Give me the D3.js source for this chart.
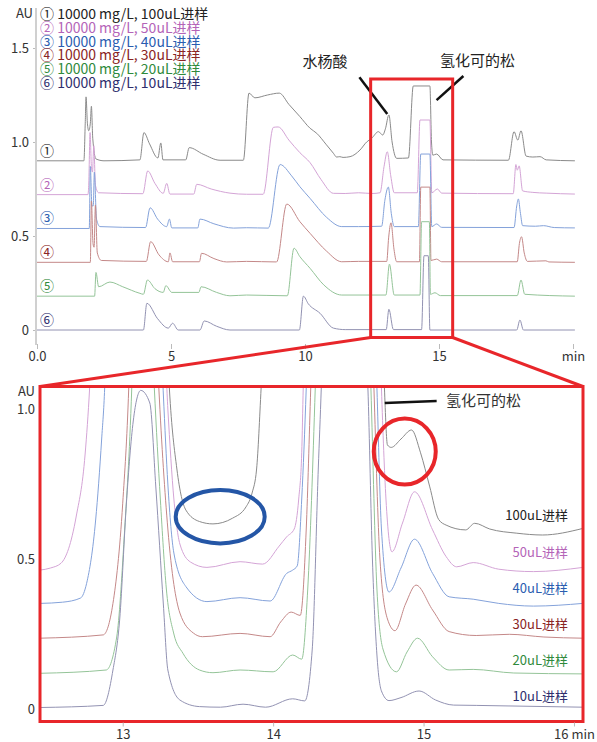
<!DOCTYPE html>
<html>
<head>
<meta charset="utf-8">
<script src="https://cdn.jsdelivr.net/npm/d3@7"></script>
<style>
  body { margin: 0; background: #fff; }
  svg text { font-family: "Noto Sans CJK SC", "Noto Sans", sans-serif; }
</style>
</head>
<body>
<div id="chart"></div>
<script>
// ---- data ----
const sampleNames = ['100uL进样', '50uL进样', '40uL进样', '30uL进样', '20uL进样', '10uL进样'];
const circled = ['①', '②', '③', '④', '⑤', '⑥'];
const concLabel = '10000 mg/L';
const textColors = ['#222222', '#b464b8', '#2a5db0', '#8a2424', '#2f8a3c', '#2e2e6e'];
const lineColors = ['#8a8a8a', '#d4a4d6', '#84a2da', '#c48888', '#94c498', '#9292b2'];

// full run, signal above each trace's own baseline (AU) vs time (min)
const topOffsets = [0.9, 0.72, 0.54, 0.36, 0.18, 0];
const top1 = [[0,0],[1.75,0],[1.8,0.2],[1.83,0.34],[1.88,0.2],[1.93,0.16],[1.99,0.2],[2.03,0.29],[2.08,0.12],[2.2,0.01],[2.5,0],
  [3.84,0.005],[3.99,0.15],[4.2,0.09],[4.51,0.015],[4.62,0.095],[4.7,0.005],[5.55,0.005],[5.68,0.07],[6.2,0.035],[6.83,0.003],
  [7.7,0.003],[7.91,0.36],[8.13,0.335],[8.6,0.35],[9.04,0.36],[9.4,0.3],[9.81,0.235],[10.19,0.173],[10.44,0.146],[10.8,0.085],
  [11.06,0.04],[11.18,0.02],[11.3,0.022],[11.42,0.018],[11.68,0.022],[12.05,0.057],[12.3,0.1],[12.49,0.12],[12.74,0.155],
  [12.9,0.137],[13.0,0.17],[13.13,0.244],[13.25,0.1],[13.42,0.013],[13.86,0.015],[14.04,0.398],[14.66,0.398],[14.72,0.1],
  [14.77,0.03],[14.91,0.036],[15.15,0.005],[17.59,0.003],[17.8,0.155],[17.94,0.11],[18.06,0.16],[18.25,0.025],[18.5,0.02],
  [18.77,0.022],[19.0,0.005],[20.07,0]];
const top2 = [[0,0],[1.9,0],[1.93,0.05],[1.98,0.33],[2.03,0.15],[2.07,0.12],[2.12,0.26],[2.18,0.05],[2.3,0.01],[3.95,0.005],
  [4.13,0.126],[4.4,0.06],[4.71,0.007],[4.84,0.06],[4.96,0.003],[5.85,0.003],[5.96,0.055],[6.5,0.03],[7.2,0.008],[7.82,0.002],
  [8.44,0.002],[8.82,0.358],[9.0,0.36],[9.4,0.29],[9.81,0.223],[10.19,0.17],[10.6,0.08],[11.06,0.007],[11.5,0.006],[12.0,0.01],
  [12.5,0.006],[12.8,0.01],[12.95,0.15],[13.07,0.228],[13.2,0.1],[13.33,0.01],[14.19,0.01],[14.29,0.397],[14.66,0.397],
  [14.73,0.01],[14.94,0.03],[15.1,0.008],[17.77,0.005],[17.87,0.16],[17.92,0.13],[17.99,0.153],[18.12,0.02],[18.5,0.012],
  [19.0,0.008],[20.07,0.003]];
const top3 = [[0,0],[1.95,0],[1.99,0.33],[2.05,0.12],[2.1,0.12],[2.14,0.3],[2.22,0.05],[2.35,0.01],[4.05,0.005],[4.22,0.11],
  [4.5,0.05],[4.84,0.01],[4.94,0.05],[5.03,0.003],[6.0,0.003],[6.08,0.05],[6.6,0.025],[7.33,0.002],[7.82,0.004],[8.63,0.002],
  [9.07,0.34],[9.5,0.28],[9.81,0.222],[10.19,0.16],[10.8,0.06],[11.37,0.01],[12.0,0.01],[12.86,0.012],[12.98,0.15],[13.11,0.22],
  [13.22,0.08],[13.33,0.01],[14.23,0.01],[14.32,0.396],[14.66,0.396],[14.73,0.01],[14.91,0.024],[15.1,0.006],[17.8,0.005],
  [17.9,0.12],[17.96,0.157],[18.04,0.08],[18.12,0.015],[18.6,0.012],[18.9,0.015],[19.3,0.005],[20.07,0.003]];
const top4 = [[0,0],[1.99,0],[2.03,0.326],[2.09,0.1],[2.13,0.08],[2.18,0.305],[2.25,0.05],[2.4,0.01],[4.08,0.005],[4.24,0.11],
  [4.55,0.04],[4.9,0.003],[4.96,0.05],[5.06,0.003],[6.06,0.003],[6.14,0.048],[6.6,0.02],[7.08,0.002],[7.82,0.005],[8.94,0.002],
  [9.32,0.31],[9.81,0.216],[10.19,0.154],[10.8,0.06],[11.37,0.003],[12.0,0.005],[13.05,0.005],[13.12,0.13],[13.21,0.21],
  [13.32,0.07],[13.42,0.003],[14.27,0.003],[14.32,0.4],[14.66,0.4],[14.7,0.01],[14.91,0.017],[15.1,0.003],[17.92,0.003],
  [18.0,0.1],[18.08,0.136],[18.18,0.05],[18.3,0.005],[18.99,0.008],[19.1,0.002],[20.07,0]];
const top5 = [[0,0],[2.15,0],[2.2,0.126],[2.3,0.05],[2.72,0.075],[3.2,0.05],[3.84,0.015],[3.97,0.01],[4.12,0.086],[4.4,0.04],
  [4.71,0.02],[4.81,0.056],[5.03,0.02],[6.04,0.02],[6.12,0.05],[6.7,0.02],[7.2,0.002],[7.82,0.006],[9.34,0.002],[9.59,0.255],
  [9.81,0.21],[10.19,0.148],[10.7,0.06],[11.37,0.006],[13.02,0.006],[13.15,0.17],[13.33,0.006],[14.29,0.006],[14.35,0.396],
  [14.64,0.396],[14.68,0.01],[14.85,0.018],[15.05,0.003],[17.92,0.003],[18.06,0.086],[18.2,0.01],[20.07,0]];
const top6 = [[0,0],[3.97,0],[4.1,0.142],[4.5,0.06],[4.9,0.01],[5.06,0.036],[5.27,0],[6.08,0],[6.24,0.048],[6.7,0.02],[7.2,0],
  [9.79,0],[9.94,0.18],[10.12,0.14],[10.56,0.089],[11.06,0.01],[11.5,0.002],[13.03,0.002],[13.13,0.11],[13.3,0.002],
  [14.35,0.002],[14.44,0.395],[14.6,0.395],[14.66,0],[17.9,0],[18.02,0.053],[18.15,0],[20.07,0]];
const topTraces = [top1, top2, top3, top4, top5, top6];

// zoomed window 12.45-16.06 min (AU)
const zoomRange = [12.45, 16.06];
const zoom1 = [[12.45,1.4],[13.28,1.4],[13.31,1.07],[13.36,0.8],[13.42,0.663],[13.51,0.625],[13.6,0.617],[13.73,0.636],
  [13.82,0.674],[13.86,0.72],[13.89,0.8],[13.92,1.07],[13.95,1.4],[14.72,1.4],[14.74,1.07],[14.76,0.88],[14.785,0.872],
  [14.85,0.9],[14.92,0.93],[14.98,0.854],[15.04,0.743],[15.1,0.632],[15.15,0.613],[15.28,0.597],[15.34,0.619],[15.44,0.6],
  [15.62,0.586],[15.79,0.58],[16.06,0.602]];
const zoom2 = [[12.45,0.463],[12.52,0.47],[12.59,0.486],[12.69,0.64],[12.75,0.85],[12.78,1.07],[12.81,1.4],[13.26,1.4],
  [13.3,1.0],[13.34,0.7],[13.38,0.55],[13.45,0.49],[13.56,0.472],[13.78,0.491],[13.93,0.483],[14.04,0.543],[14.09,0.574],
  [14.14,0.6],[14.17,0.7],[14.19,0.854],[14.2,1.07],[14.22,1.4],[14.7,1.4],[14.72,1.07],[14.75,0.7],[14.79,0.524],
  [14.86,0.62],[14.94,0.724],[15.06,0.597],[15.15,0.508],[15.22,0.474],[15.33,0.488],[15.5,0.466],[15.73,0.458],[16.06,0.472]];
const zoom3 = [[12.45,0.352],[12.6,0.356],[12.72,0.37],[12.76,0.419],[12.82,0.63],[12.86,0.9],[12.88,1.07],[12.9,1.4],
  [13.24,1.4],[13.27,1.05],[13.3,0.75],[13.34,0.52],[13.42,0.408],[13.56,0.358],[13.78,0.371],[13.98,0.36],[14.09,0.452],
  [14.13,0.463],[14.16,0.477],[14.19,0.7],[14.22,1.07],[14.24,1.4],[14.67,1.4],[14.69,1.07],[14.72,0.6],[14.77,0.39],
  [14.85,0.47],[14.94,0.566],[15.06,0.452],[15.17,0.374],[15.33,0.366],[15.5,0.352],[15.73,0.343],[16.06,0.352]];
const zoom4 = [[12.45,0.236],[12.87,0.247],[12.935,0.352],[13.0,0.686],[13.04,1.07],[13.06,1.4],[13.21,1.4],[13.24,1.07],
  [13.3,0.6],[13.38,0.32],[13.47,0.253],[13.53,0.241],[13.78,0.252],[13.98,0.241],[14.05,0.29],[14.12,0.323],[14.18,0.312],
  [14.22,0.6],[14.25,1.07],[14.27,1.4],[14.65,1.4],[14.67,1.07],[14.71,0.5],[14.76,0.3],[14.81,0.261],[14.88,0.35],
  [14.95,0.413],[15.06,0.33],[15.17,0.258],[15.35,0.245],[15.57,0.249],[15.8,0.24],[16.06,0.236]];
const zoom5 = [[12.45,0.119],[12.89,0.13],[12.96,0.24],[13.01,0.574],[13.06,1.07],[13.08,1.4],[13.18,1.4],[13.21,1.07],
  [13.25,0.7],[13.29,0.4],[13.34,0.25],[13.4,0.186],[13.51,0.13],[13.6,0.121],[13.78,0.13],[14.0,0.124],[14.13,0.18],
  [14.19,0.166],[14.23,0.4],[14.28,1.07],[14.3,1.4],[14.63,1.4],[14.65,1.07],[14.69,0.4],[14.73,0.2],[14.82,0.124],
  [14.89,0.19],[14.96,0.236],[15.06,0.174],[15.17,0.13],[15.33,0.132],[15.6,0.12],[16.06,0.117]];
const zoom6 = [[12.45,0.005],[12.87,0.012],[12.935,0.13],[12.98,0.3],[13.025,0.69],[13.07,0.96],[13.12,1.062],[13.18,1.02],
  [13.22,0.74],[13.27,0.35],[13.3,0.13],[13.38,0.03],[13.51,0.008],[13.65,0.006],[13.8,0.016],[13.95,0.006],[14.13,0.034],
  [14.21,0.027],[14.26,0.2],[14.3,0.8],[14.32,1.07],[14.34,1.4],[14.6,1.4],[14.63,1.07],[14.66,0.5],[14.69,0.18],[14.72,0.06],
  [14.77,0.028],[14.85,0.038],[14.97,0.06],[15.08,0.03],[15.2,0.013],[15.35,0.012],[16.06,0.006]];
const zoomTraces = [zoom1, zoom2, zoom3, zoom4, zoom5, zoom6];
const zoomLabelLevels = [0.641, 0.519, 0.399, 0.277, 0.158, 0.039];

const topXTicks = [0, 5, 10, 15, 20];
const topYTicks = [0, 0.5, 1.0, 1.5];
const zoomXTicks = [13, 14, 15, 16];
const zoomYTicks = [0, 0.5, 1.0];

// ---- layout ----
const W = 597, H = 742;
const RED = '#e8262a';

const svg = d3.select('#chart').append('svg')
  .attr('width', W).attr('height', H);

const xTop = d3.scaleLinear().domain([0, 20]).range([37, 573]);
const yTop = d3.scaleLinear().domain([0, 1.5]).range([330, 48]);
const xZoom = d3.scaleLinear().domain(zoomRange).range([40, 583]);
const yZoom = d3.scaleLinear().domain([0, 1]).range([709, 409]);
const frameTop = 386.5, frameBottom = 721.5;

function styleAxis(g) {
  g.selectAll('text').attr('fill', '#333').attr('font-size', 13);
  g.selectAll('line').attr('stroke', '#bbb');
}

// ---- top panel ----
const yAxisTop = svg.append('g')
  .attr('transform', 'translate(36,0)')
  .call(d3.axisLeft(yTop).tickValues(topYTicks).tickSize(3).tickPadding(4)
    .tickFormat(d => d === 0 ? '0' : d3.format('.1f')(d)));
yAxisTop.select('.domain').remove();
yAxisTop.call(styleAxis);
svg.append('line').attr('x1', 36).attr('x2', 36).attr('y1', 8).attr('y2', 345)
  .attr('stroke', '#d0d0d0').attr('stroke-width', 2);
svg.append('text').attr('x', 33).attr('y', 14).attr('text-anchor', 'end')
  .attr('dominant-baseline', 'middle').attr('font-size', 13).attr('fill', '#333').text('AU');

const xAxisTop = svg.append('g')
  .attr('transform', 'translate(0,344)')
  .call(d3.axisBottom(xTop).tickValues(topXTicks).tickSize(5).tickPadding(3)
    .tickFormat(d => d === 0 ? '0.0' : d === 20 ? 'min' : d));
xAxisTop.select('.domain').remove();
xAxisTop.call(styleAxis);

const topLine = d3.line()
  .x(d => xTop(d[0])).y(d => yTop(d[1]))
  .curve(d3.curveMonotoneX);

svg.append('g').selectAll('path')
  .data(topTraces)
  .join('path')
  .attr('d', (d, i) => topLine(d.map(p => [p[0], p[1] + topOffsets[i]])))
  .attr('fill', 'none')
  .attr('stroke', (d, i) => lineColors[i])
  .attr('stroke-width', 1);

svg.append('g').selectAll('text')
  .data(circled)
  .join('text')
  .attr('x', xTop(0.37))
  .attr('y', (d, i) => yTop(topOffsets[i] + 0.047))
  .attr('text-anchor', 'middle')
  .attr('dominant-baseline', 'middle')
  .attr('font-size', 14)
  .attr('fill', (d, i) => textColors[i])
  .text(d => d);

// legend: one text block, one line per sample
svg.append('text')
  .attr('x', 40)
  .attr('y', 15)
  .attr('dominant-baseline', 'middle')
  .attr('font-size', 14)
  .selectAll('tspan')
  .data(sampleNames)
  .join('tspan')
  .attr('x', 40)
  .attr('dy', (d, i) => i === 0 ? 0 : 13.8)
  .attr('fill', (d, i) => textColors[i])
  .text((d, i) => `${circled[i]} ${concLabel}, ${d}`);

// annotations top
svg.append('text').attr('x', xTop(10.75)).attr('y', yTop(1.42))
  .attr('text-anchor', 'middle').attr('dominant-baseline', 'middle')
  .attr('font-size', 15).attr('fill', '#222').text('水杨酸');
svg.append('line')
  .attr('x1', xTop(12.03)).attr('y1', yTop(1.344)).attr('x2', xTop(13.07)).attr('y2', yTop(1.149))
  .attr('stroke', '#111').attr('stroke-width', 2.5);
svg.append('text').attr('x', xTop(16.44)).attr('y', yTop(1.426))
  .attr('text-anchor', 'middle').attr('dominant-baseline', 'middle')
  .attr('font-size', 15).attr('fill', '#222').text('氢化可的松');
svg.append('line')
  .attr('x1', xTop(15.91)).attr('y1', yTop(1.351)).attr('x2', xTop(14.91)).attr('y2', yTop(1.223))
  .attr('stroke', '#111').attr('stroke-width', 2.5);

// highlight box and connectors
const boxL = xTop(12.45), boxR = xTop(15.51), boxT = 79, boxB = 337.5;
svg.append('rect').attr('x', boxL).attr('y', boxT).attr('width', boxR - boxL).attr('height', boxB - boxT)
  .attr('fill', 'none').attr('stroke', RED).attr('stroke-width', 3);
svg.append('line').attr('x1', boxL).attr('y1', boxB).attr('x2', xZoom(zoomRange[0])).attr('y2', frameTop)
  .attr('stroke', RED).attr('stroke-width', 3);
svg.append('line').attr('x1', boxR).attr('y1', boxB).attr('x2', xZoom(zoomRange[1])).attr('y2', frameTop)
  .attr('stroke', RED).attr('stroke-width', 3);

// ---- zoom panel ----
const fx0 = xZoom(zoomRange[0]), fx1 = xZoom(zoomRange[1]);
svg.append('defs').append('clipPath').attr('id', 'zclip')
  .append('rect').attr('x', fx0).attr('y', frameTop).attr('width', fx1 - fx0).attr('height', frameBottom - frameTop);

const zoomLine = d3.line()
  .x(d => xZoom(d[0])).y(d => yZoom(d[1]))
  .curve(d3.curveMonotoneX);

svg.append('g').attr('clip-path', 'url(#zclip)')
  .selectAll('path')
  .data(zoomTraces)
  .join('path')
  .attr('d', d => zoomLine(d))
  .attr('fill', 'none')
  .attr('stroke', (d, i) => lineColors[i])
  .attr('stroke-width', 1);

svg.append('rect').attr('x', fx0).attr('y', frameTop).attr('width', fx1 - fx0).attr('height', frameBottom - frameTop)
  .attr('fill', 'none').attr('stroke', RED).attr('stroke-width', 3);

const yAxisZoom = svg.append('g')
  .attr('transform', 'translate(36,0)')
  .call(d3.axisLeft(yZoom).tickValues(zoomYTicks).tickSize(0).tickPadding(1)
    .tickFormat(d => d === 0 ? '0' : d3.format('.1f')(d)));
yAxisZoom.select('.domain').remove();
yAxisZoom.call(styleAxis);
svg.append('text').attr('x', 35).attr('y', 392).attr('text-anchor', 'end')
  .attr('dominant-baseline', 'middle').attr('font-size', 13).attr('fill', '#333').text('AU');

const xAxisZoom = svg.append('g')
  .attr('transform', `translate(0,${frameBottom + 1})`)
  .call(d3.axisBottom(xZoom).tickValues(zoomXTicks).tickSize(4).tickPadding(3)
    .tickFormat(d => d === 16 ? '16 min' : d));
xAxisZoom.select('.domain').remove();
xAxisZoom.call(styleAxis);

svg.append('g').selectAll('text')
  .data(sampleNames)
  .join('text')
  .attr('x', xZoom(15.96))
  .attr('y', (d, i) => yZoom(zoomLabelLevels[i]))
  .attr('text-anchor', 'end')
  .attr('dominant-baseline', 'middle')
  .attr('font-size', 13)
  .attr('fill', (d, i) => textColors[i])
  .text(d => d);

// annotation zoom
svg.append('line')
  .attr('x1', xZoom(14.742)).attr('y1', yZoom(1.02)).attr('x2', xZoom(15.087)).attr('y2', yZoom(1.027))
  .attr('stroke', '#111').attr('stroke-width', 2.5);
svg.append('text').attr('x', xZoom(15.15)).attr('y', yZoom(1.024))
  .attr('dominant-baseline', 'middle').attr('font-size', 15).attr('fill', '#333').text('氢化可的松');

svg.append('ellipse').attr('cx', xZoom(14.875)).attr('cy', yZoom(0.858)).attr('rx', 31).attr('ry', 33)
  .attr('fill', 'none').attr('stroke', RED).attr('stroke-width', 4);
svg.append('ellipse').attr('cx', xZoom(13.648)).attr('cy', yZoom(0.641)).attr('rx', 44.5).attr('ry', 26.7)
  .attr('fill', 'none').attr('stroke', '#2456a6').attr('stroke-width', 4);
</script>
</body>
</html>
